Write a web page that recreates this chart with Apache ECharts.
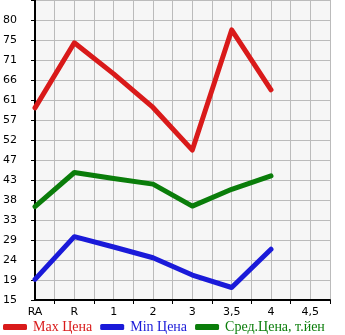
<!DOCTYPE html>
<html><head><meta charset="utf-8">
<script src="https://cdn.jsdelivr.net/npm/echarts@6/dist/echarts.min.js"></script>
<style>html,body{margin:0;padding:0;background:#fff}#c{width:345px;height:335px}</style>
</head><body><div id="c"></div>
<script>
const xLabels = ['RA', 'R', '1', '2', '3', '3,5', '4', '4,5'];
const pointCats = [0, 1, 2, 3, 4, 5, 6]; // indices into xLabels that carry data
const maxPrice = [59.6, 74.7, 67.5, 59.7, 49.8, 77.7, 63.8];
const minPrice = [19.8, 29.7, 27.3, 24.8, 20.8, 17.9, 26.8];
const avgPrice = [36.7, 44.6, 43.2, 41.9, 36.8, 40.7, 43.8];
const yLabels = ['15', '19', '24', '29', '33', '38', '43', '47', '52', '57', '61', '66', '71', '75', '80'];
const seriesNames = ['Max Цена', 'Min Цена', 'Сред.Цена, т.йен'];

const yMin = 15, yStep = 65 / 14, ySteps = 15;
const colors = ['#d91a1a', '#1a1ad9', '#0a7d0a'];

const chart = echarts.init(document.getElementById('c'));
const mk = (arr) => pointCats.map((c, i) => [c, arr[i]]);
const lineSeries = (name, arr, color) => ({
  name, type: 'line', data: mk(arr), xAxisIndex: 0, yAxisIndex: 0,
  showSymbol: false, symbol: 'none', animation: false,
  lineStyle: { color, width: 5, cap: 'round', join: 'round' },
  itemStyle: { color }
});
chart.setOption({
  animation: false,
  backgroundColor: '#fff',
  grid: { left: 30, top: 0, right: 15, bottom: 35, show: true, backgroundColor: '#f6f6f6', borderWidth: 0 },
  legend: {
    left: -2, bottom: -4, itemGap: 8, itemWidth: 24, itemHeight: 6,
    icon: 'roundRect',
    textStyle: { fontFamily: 'Liberation Serif', fontSize: 14, padding: [0, 0, 0, 1] },
    data: seriesNames.map((n, i) => ({ name: n, textStyle: { color: colors[i] } }))
  },
  xAxis: [{
    type: 'value', min: 0, max: 7.5, interval: 0.5, position: 'bottom',
    axisLine: { show: true, onZero: false, lineStyle: { color: '#000', width: 2 } },
    axisTick: { show: false },
    splitLine: { show: true, lineStyle: { color: '#bbbbbb', width: 1 } },
    axisLabel: {
      show: true, margin: 7, color: '#000', fontFamily: 'DejaVu Sans', fontSize: 11,
      showMinLabel: true, showMaxLabel: true,
      formatter: v => (Number.isInteger(v) && xLabels[v] !== undefined) ? xLabels[v] : ''
    }
  }, {
    type: 'value', min: 0, max: 7.5, position: 'bottom', offset: 0,
    axisLine: { show: false },
    axisLabel: { show: false },
    splitLine: { show: false },
    axisTick: { show: true, length: 4, lineStyle: { color: '#000', width: 1 },
      customValues: xLabels.map((_, i) => i + 0.5) }
  }],
  yAxis: [{
    type: 'value', min: yMin, max: yMin + ySteps * yStep, show: false
  }, {
    type: 'value', min: 0, max: ySteps, interval: 1, position: 'left',
    axisLine: { show: true, onZero: false, lineStyle: { color: '#000', width: 2 } },
    axisTick: { show: true, length: 4, lineStyle: { color: '#000', width: 1 } },
    splitLine: { show: true, lineStyle: { color: '#bbbbbb', width: 1 } },
    axisLabel: {
      margin: 18, color: '#000', fontFamily: 'DejaVu Sans', fontSize: 11,
      padding: [0, 0, 6, 0],
      showMaxLabel: true,
      formatter: v => yLabels[v] !== undefined ? yLabels[v] : ''
    }
  }],
  series: [
    lineSeries(seriesNames[0], maxPrice, colors[0]),
    lineSeries(seriesNames[1], minPrice, colors[1]),
    lineSeries(seriesNames[2], avgPrice, colors[2])
  ]
});
</script></body></html>
